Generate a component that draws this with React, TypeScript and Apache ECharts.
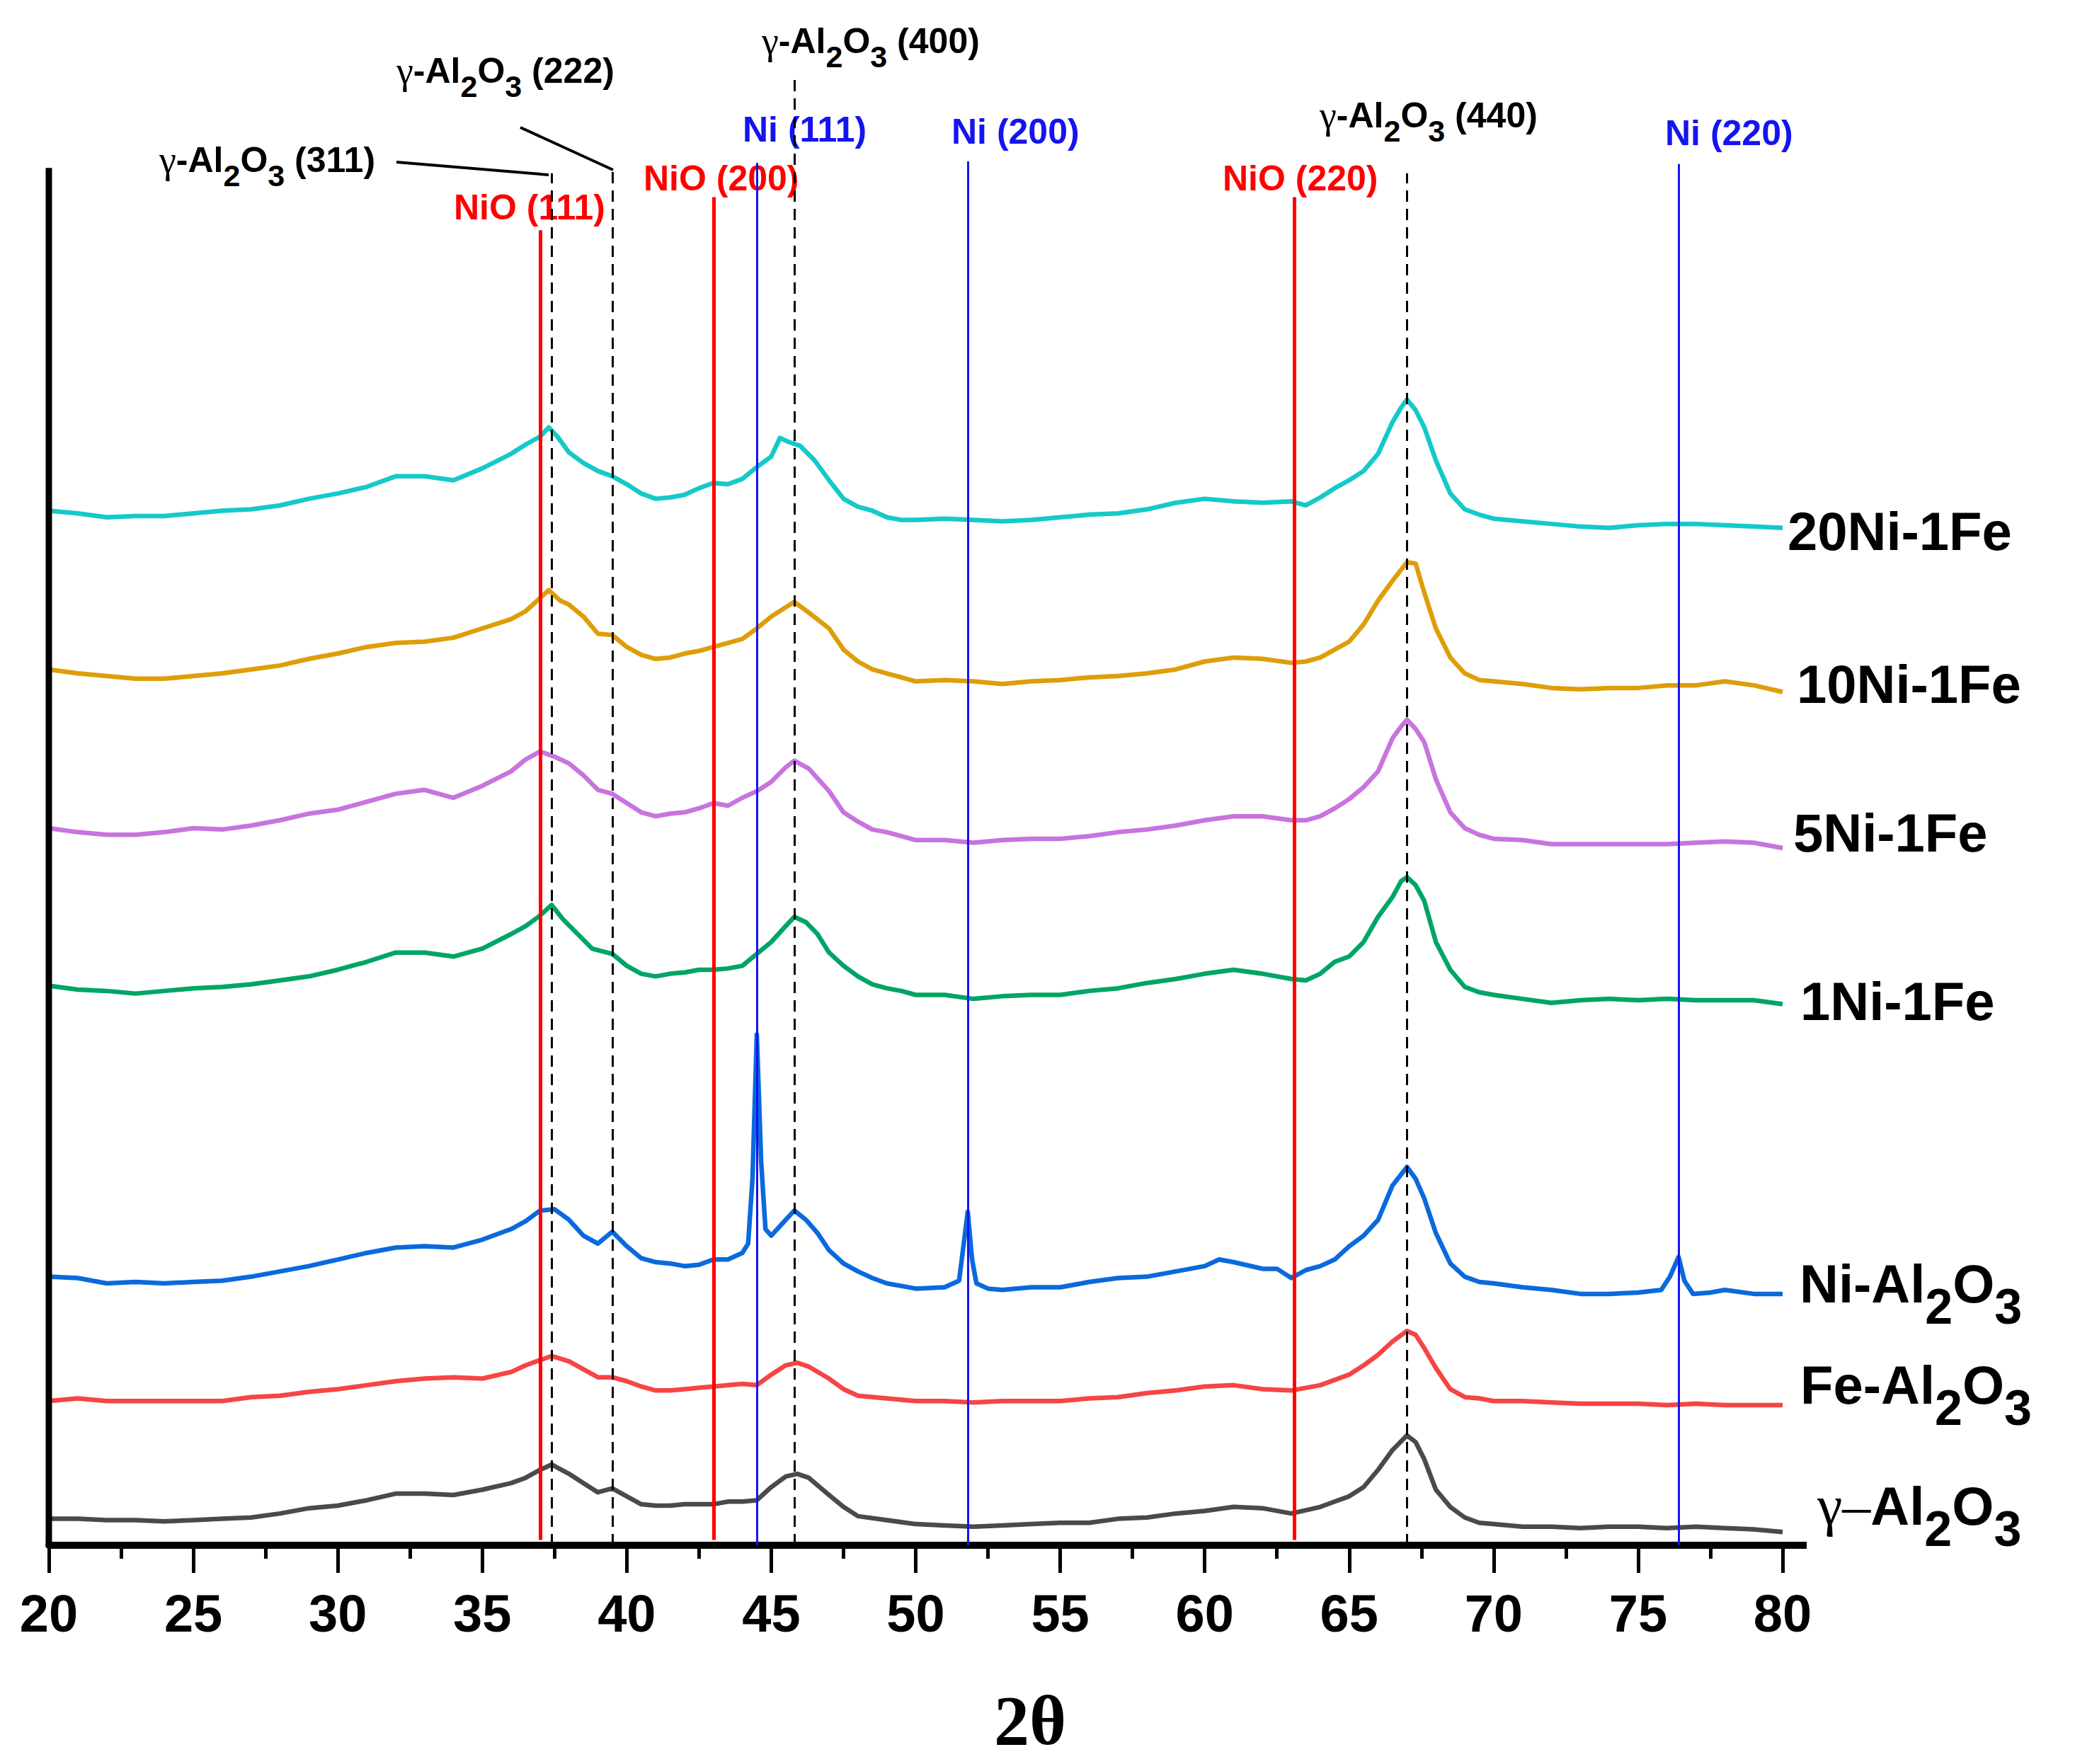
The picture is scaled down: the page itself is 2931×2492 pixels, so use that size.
import React, { useRef, useEffect } from "react";
import * as echarts from "echarts";

// XRD patterns, stacked (intensity in a.u. incl. vertical offset)
const trace20Ni = [
  [20, 782], [21, 780], [22, 777], [23, 778], [24, 778], [25, 780], [26, 782], [27, 783], [28, 786], [29, 791],
  [30, 795], [31, 800], [32, 808], [33, 808], [34, 805], [35, 814], [36, 825], [36.5, 832], [37, 838], [37.3, 845],
  [37.6, 838], [38, 826], [38.5, 818], [39, 812], [39.5, 808], [40, 802], [40.5, 795], [41, 791], [41.5, 792], [42, 794],
  [42.5, 799], [43, 803], [43.5, 802], [44, 806], [44.5, 815], [45, 823], [45.3, 837], [45.6, 834], [46, 831], [46.5, 820],
  [47, 805], [47.5, 791], [48, 785], [48.5, 782], [49, 777], [49.5, 775], [50, 775], [51, 776], [52, 775], [53, 774],
  [54, 775], [55, 777], [56, 779], [57, 780], [58, 783], [59, 788], [60, 791], [61, 789], [62, 788], [63, 789],
  [63.5, 786], [64, 792], [64.5, 799], [65, 805], [65.5, 812], [66, 825], [66.5, 849], [66.8, 860], [67, 866], [67.3, 858],
  [67.6, 845], [68, 820], [68.5, 795], [69, 783], [69.5, 779], [70, 776], [71, 774], [72, 772], [73, 770], [74, 769],
  [75, 771], [76, 772], [77, 772], [78, 771], [79, 770], [80, 769],
];

const trace10Ni = [
  [20, 662], [21, 659], [22, 657], [23, 655], [24, 655], [25, 657], [26, 659], [27, 662], [28, 665], [29, 670],
  [30, 674], [31, 679], [32, 682], [33, 683], [34, 686], [35, 693], [36, 700], [36.5, 706], [37, 716], [37.3, 722],
  [37.7, 714], [38, 711], [38.5, 702], [39, 689], [39.5, 688], [40, 679], [40.5, 673], [41, 670], [41.5, 671], [42, 674],
  [42.5, 676], [43, 679], [43.5, 682], [44, 685], [44.5, 693], [45, 702], [45.5, 709], [45.8, 713], [46.3, 705], [47, 693],
  [47.5, 677], [48, 668], [48.5, 662], [49, 659], [49.5, 656], [50, 653], [51, 654], [52, 653], [53, 651], [54, 653],
  [55, 654], [56, 656], [57, 657], [58, 659], [59, 662], [60, 668], [61, 671], [62, 670], [63, 667], [63.5, 668],
  [64, 671], [64.5, 677], [65, 683], [65.5, 696], [66, 714], [66.5, 729], [67, 743], [67.3, 742], [67.6, 720], [68, 693],
  [68.5, 671], [69, 659], [69.5, 654], [70, 653], [71, 651], [72, 648], [73, 647], [74, 648], [75, 648], [76, 650],
  [77, 650], [78, 653], [79, 650], [80, 645],
];

const trace5Ni = [
  [20, 542], [21, 539], [22, 537], [23, 537], [24, 539], [25, 542], [26, 541], [27, 544], [28, 548], [29, 553],
  [30, 556], [31, 562], [32, 568], [33, 571], [34, 565], [35, 574], [36, 585], [36.5, 594], [37, 600], [37.5, 596],
  [38, 591], [38.5, 582], [39, 571], [39.5, 568], [40, 561], [40.5, 554], [41, 551], [41.5, 553], [42, 554], [42.5, 557],
  [43, 561], [43.5, 559], [44, 565], [44.5, 570], [45, 577], [45.5, 588], [45.8, 593], [46.3, 587], [47, 570], [47.5, 554],
  [48, 547], [48.5, 541], [49, 539], [49.5, 536], [50, 533], [51, 533], [52, 531], [53, 533], [54, 534], [55, 534],
  [56, 536], [57, 539], [58, 541], [59, 544], [60, 548], [61, 551], [62, 551], [63, 548], [63.5, 548], [64, 551],
  [64.5, 557], [65, 564], [65.5, 573], [66, 585], [66.5, 610], [66.8, 619], [67, 624], [67.3, 617], [67.6, 607], [68, 579],
  [68.5, 554], [69, 542], [69.5, 537], [70, 534], [71, 533], [72, 530], [73, 530], [74, 530], [75, 530], [76, 530],
  [77, 531], [78, 532], [79, 531], [80, 527],
];

const trace1Ni = [
  [20, 423], [21, 420], [22, 419], [23, 417], [24, 419], [25, 421], [26, 422], [27, 424], [28, 427], [29, 430],
  [30, 435], [31, 441], [32, 448], [33, 448], [34, 445], [35, 451], [36, 462], [36.5, 468], [37, 476], [37.4, 484],
  [37.8, 473], [38.3, 462], [38.8, 451], [39.5, 447], [40, 438], [40.5, 432], [41, 430], [41.5, 432], [42, 433], [42.5, 435],
  [43, 435], [43.5, 436], [44, 438], [44.5, 447], [45, 456], [45.5, 468], [45.8, 475], [46.2, 471], [46.6, 462], [47, 448],
  [47.5, 438], [48, 430], [48.5, 424], [49, 421], [49.5, 419], [50, 416], [51, 416], [52, 413], [53, 415], [54, 416],
  [55, 416], [56, 419], [57, 421], [58, 425], [59, 428], [60, 432], [61, 435], [62, 432], [63, 428], [63.5, 427],
  [64, 432], [64.5, 441], [65, 445], [65.5, 456], [66, 475], [66.5, 490], [66.8, 502], [67, 505], [67.3, 499], [67.6, 487],
  [68, 456], [68.5, 435], [69, 422], [69.5, 418], [70, 416], [71, 413], [72, 410], [73, 412], [74, 413], [75, 412],
  [76, 413], [77, 412], [78, 412], [79, 412], [80, 409],
];

const traceNiAl = [
  [20, 203], [21, 202], [22, 198], [23, 199], [24, 198], [25, 199], [26, 200], [27, 203], [28, 207], [29, 211],
  [30, 216], [31, 221], [32, 225], [33, 226], [34, 225], [35, 231], [36, 239], [36.5, 245], [37, 253], [37.5, 254],
  [38, 246], [38.5, 234], [39, 228], [39.5, 237], [40, 226], [40.5, 217], [41, 214], [41.5, 213], [42, 211], [42.5, 212],
  [43, 216], [43.5, 216], [44, 221], [44.2, 228], [44.35, 277], [44.5, 386], [44.65, 290], [44.8, 239], [45, 234], [45.5, 246],
  [45.8, 253], [46.2, 246], [46.6, 236], [47, 223], [47.5, 213], [48, 207], [48.5, 202], [49, 198], [49.5, 196], [50, 194],
  [51, 195], [51.5, 200], [51.65, 226], [51.8, 252], [51.95, 216], [52.1, 198], [52.5, 194], [53, 193], [54, 195], [55, 195],
  [56, 199], [57, 202], [58, 203], [59, 207], [60, 211], [60.5, 216], [61, 214], [62, 209], [62.5, 209], [63, 202],
  [63.5, 208], [64, 211], [64.5, 216], [65, 226], [65.5, 234], [66, 246], [66.5, 272], [67, 286], [67.3, 277], [67.6, 262],
  [68, 236], [68.5, 213], [69, 203], [69.5, 199], [70, 198], [71, 195], [72, 193], [73, 190], [74, 190], [75, 191],
  [75.8, 193], [76.1, 203], [76.4, 218], [76.6, 200], [76.9, 190], [77.5, 191], [78, 193], [79, 190], [80, 190],
];

const traceFeAl = [
  [20, 109], [21, 111], [22, 109], [23, 109], [24, 109], [25, 109], [26, 109], [27, 112], [28, 113], [29, 116],
  [30, 118], [31, 121], [32, 124], [33, 126], [34, 127], [35, 126], [36, 131], [36.5, 136], [37, 140], [37.4, 143],
  [38, 139], [38.5, 133], [39, 127], [39.5, 127], [40, 124], [40.5, 120], [41, 117], [41.5, 117], [42, 118], [42.5, 119],
  [43, 120], [43.5, 121], [44, 122], [44.5, 121], [45, 129], [45.5, 136], [45.9, 138], [46.3, 135], [47, 126], [47.5, 118],
  [48, 113], [49, 111], [50, 109], [51, 109], [52, 108], [53, 109], [54, 109], [55, 109], [56, 111], [57, 112],
  [58, 115], [59, 117], [60, 120], [61, 121], [62, 118], [63, 117], [64, 121], [64.5, 125], [65, 129], [65.5, 136],
  [66, 144], [66.5, 154], [67, 162], [67.3, 159], [67.6, 149], [68, 134], [68.5, 118], [69, 112], [69.5, 111], [70, 109],
  [71, 109], [72, 108], [73, 107], [74, 107], [75, 107], [76, 106], [77, 107], [78, 106], [79, 106], [80, 106],
];

const traceGamma = [
  [20, 20], [21, 20], [22, 19], [23, 19], [24, 18], [25, 19], [26, 20], [27, 21], [28, 24], [29, 28],
  [30, 30], [31, 34], [32, 39], [33, 39], [34, 38], [35, 42], [36, 47], [36.5, 51], [37, 57], [37.4, 61],
  [38, 54], [38.5, 47], [39, 40], [39.5, 43], [40, 37], [40.5, 31], [41, 30], [41.5, 30], [42, 31], [42.5, 31],
  [43, 31], [43.5, 33], [44, 33], [44.5, 34], [45, 44], [45.5, 52], [45.9, 54], [46.3, 51], [47, 38], [47.5, 29],
  [48, 22], [49, 19], [50, 16], [51, 15], [52, 14], [53, 15], [54, 16], [55, 17], [56, 17], [57, 20],
  [58, 21], [59, 24], [60, 26], [61, 29], [62, 28], [63, 24], [64, 29], [64.5, 33], [65, 37], [65.5, 44],
  [66, 57], [66.5, 72], [67, 83], [67.3, 78], [67.6, 65], [68, 42], [68.5, 29], [69, 21], [69.5, 17], [70, 16],
  [71, 14], [72, 14], [73, 13], [74, 14], [75, 14], [76, 13], [77, 14], [78, 13], [79, 12], [80, 10],
];

const traceNames = ["20Ni-1Fe", "10Ni-1Fe", "5Ni-1Fe", "1Ni-1Fe", "Ni-Al2O3", "Fe-Al2O3", "γ-Al2O3"];
const traceColors = ["#16C9C9", "#DE9E0A", "#C874DE", "#00A565", "#0A6ADC", "#F54545", "#4A4A4A"];
const traceData = [trace20Ni, trace10Ni, trace5Ni, trace1Ni, traceNiAl, traceFeAl, traceGamma];

// reference reflections (2θ) and how high their marker lines reach
const nioPeaks = [37.0, 43.0, 63.1];
const nioTops = [994, 1019, 1019];
const aluminaPeaks = [37.4, 39.5, 45.8, 67.0];
const aluminaTops = [1037, 1041, 1111, 1037];
const niPeaks = [44.5, 51.8, 76.4];
const niTops = [1045, 1046, 1044];
const leftAxisTop = 1041;

const SANS = '"Liberation Sans", Arial, sans-serif';
const SERIF = '"Liberation Serif", "Times New Roman", serif';

const richFor = (size: number, subSize: number, lh: number, shift: number, color: string) => ({
  t: { fontSize: size, fontWeight: "bold", fontFamily: SANS, fill: color, lineHeight: lh },
  s: { fontSize: subSize, fontWeight: "bold", fontFamily: SANS, fill: color, lineHeight: lh, padding: [shift * 2, 0, 0, 0] },
  g: { fontSize: size + 4, fontWeight: "normal", fontFamily: SERIF, fill: color, lineHeight: lh },
});

const label = (text: string, x: number, y: number, color: string, big: boolean) => ({
  type: "text",
  x,
  y,
  silent: true,
  style: {
    text,
    align: "left",
    textAlign: "left",
    verticalAlign: "middle",
    textVerticalAlign: "middle",
    fill: color,
    rich: big ? richFor(76, 70, 84, 33, color) : richFor(50, 43, 56, 22, color),
  },
});

const App = () => {
  const chartRef = useRef<HTMLDivElement>(null);

  useEffect(() => {
    const chart = echarts.init(chartRef.current, null, { renderer: "svg" });

    const traces = traceData.map((d, i) => ({
      name: traceNames[i],
      type: "line",
      data: d,
      symbol: "none",
      showSymbol: false,
      silent: true,
      z: 2,
      lineStyle: { color: traceColors[i], width: 6.5, join: "round" },
      itemStyle: { color: traceColors[i] },
    }));

    const refSeries = (name: string, peaks: number[], tops: number[], bottom: number, lineStyle: any) => ({
      name,
      type: "line",
      data: [],
      silent: true,
      markLine: {
        silent: true,
        symbol: ["none", "none"],
        label: { show: false },
        lineStyle,
        emphasis: { disabled: true },
        data: peaks.map((p, i) => [{ coord: [p, bottom] }, { coord: [p, tops[i]] }]),
      },
    });

    const option = {
      animation: false,
      grid: { left: 69, right: 413, top: 0, bottom: 309, containLabel: false },
      xAxis: {
        type: "value",
        min: 20,
        max: 80,
        interval: 5,
        axisLine: { show: true, onZero: false, lineStyle: { color: "#000", width: 10 } },
        axisTick: { show: true, length: 39, lineStyle: { color: "#000", width: 5 } },
        minorTick: { show: true, splitNumber: 2, length: 19, lineStyle: { color: "#000", width: 5 } },
        splitLine: { show: false },
        minorSplitLine: { show: false },
        axisLabel: { fontSize: 74, fontWeight: "bold", fontFamily: SANS, color: "#000", margin: 59 },
      },
      yAxis: { type: "value", min: 0, max: 1168, show: false },
      series: [
        ...traces,
        {
          name: "y axis",
          type: "line",
          data: [[20, 0], [20, leftAxisTop]],
          symbol: "none",
          silent: true,
          clip: false,
          lineStyle: { color: "#000", width: 9, cap: "butt" },
        },
        refSeries("NiO", nioPeaks, nioTops, 4, { color: "#FF0000", width: 5, type: "solid" }),
        refSeries("Ni", niPeaks, niTops, 0, { color: "#1414F0", width: 3, type: "solid" }),
        refSeries("γ-Al2O3 ref", aluminaPeaks, aluminaTops, 0, { color: "#000", width: 3, type: [16, 10] }),
      ],
      graphic: [
        // axis line runs a little past 80
        { type: "rect", silent: true, shape: { x: 2515, y: 2178, width: 37, height: 10 }, style: { fill: "#000" } },
        // leader lines
        { type: "line", silent: true, shape: { x1: 560, y1: 229, x2: 775, y2: 247 }, style: { stroke: "#000", lineWidth: 4 } },
        { type: "line", silent: true, shape: { x1: 735, y1: 180, x2: 866, y2: 240 }, style: { stroke: "#000", lineWidth: 4 } },
        // phase annotations
        label("{g|γ}{t|-Al}{s|2}{t|O}{s|3}{t| (311)}", 225, 226, "#000", false),
        label("{g|γ}{t|-Al}{s|2}{t|O}{s|3}{t| (222)}", 560, 100, "#000", false),
        label("{g|γ}{t|-Al}{s|2}{t|O}{s|3}{t| (400)}", 1076, 58, "#000", false),
        label("{g|γ}{t|-Al}{s|2}{t|O}{s|3}{t| (440)}", 1864, 163, "#000", false),
        label("{t|Ni (111)}", 1049, 183, "#1414F0", false),
        label("{t|Ni (200)}", 1344, 186, "#1414F0", false),
        label("{t|Ni (220)}", 2352, 188, "#1414F0", false),
        label("{t|NiO (111)}", 641, 293, "#FF0000", false),
        label("{t|NiO (200)}", 909, 252, "#FF0000", false),
        label("{t|NiO (220)}", 1727, 252, "#FF0000", false),
        // sample names
        label("{t|20Ni-1Fe}", 2525, 750, "#000", true),
        label("{t|10Ni-1Fe}", 2538, 966, "#000", true),
        label("{t|5Ni-1Fe}", 2533, 1176, "#000", true),
        label("{t|1Ni-1Fe}", 2543, 1414, "#000", true),
        label("{t|Ni-Al}{s|2}{t|O}{s|3}", 2542, 1813, "#000", true),
        label("{t|Fe-Al}{s|2}{t|O}{s|3}", 2543, 1956, "#000", true),
        label("{g|γ–}{t|Al}{s|2}{t|O}{s|3}", 2567, 2127, "#000", true),
        // axis name
        {
          type: "text",
          x: 1455,
          y: 2430,
          silent: true,
          style: {
            text: "2θ",
            align: "center",
            textAlign: "center",
            verticalAlign: "middle",
            textVerticalAlign: "middle",
            fontSize: 100,
            fontWeight: "bold",
            fontFamily: SERIF,
            fill: "#000",
          },
        },
      ],
    };

    chart.setOption(option as any);
    return () => {
      chart.dispose();
    };
  }, []);

  return <div ref={chartRef} style={{ position: "fixed", left: 0, top: 0, width: 2931, height: 2492, background: "#fff" }} />;
};

export default App;
